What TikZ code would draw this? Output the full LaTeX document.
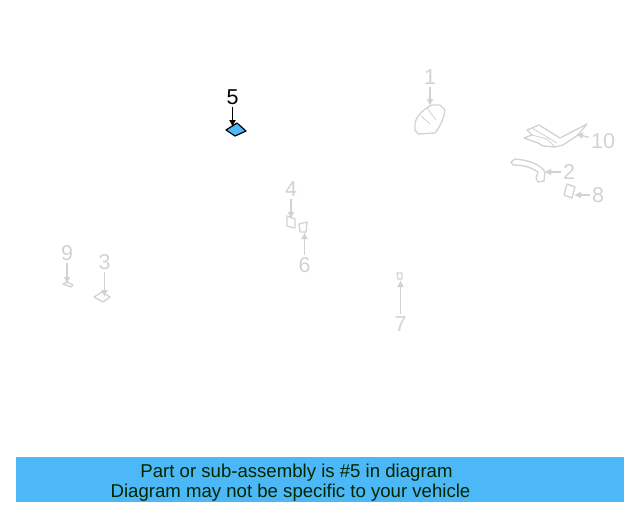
\documentclass[tikz,border=0pt]{standalone}
\usepackage{fontspec}
\setmainfont{Liberation Sans}
\usetikzlibrary{arrows.meta}
\definecolor{partgrey}{HTML}{D2D2D2}
\definecolor{partblue}{HTML}{4DB8F8}
\tikzset{
	greypart/.style={draw=partgrey, line width=1.3pt, line join=round},
	greyline/.style={draw=partgrey, line width=0.8pt},
	greyarrow/.style={draw=partgrey, line width=1.3pt, -{Latex[length=7pt,width=7pt]}, shorten <=2pt},
	greylabel/.style={text=partgrey, font=\fontsize{21.5}{21.5}\selectfont, inner sep=0pt},
	bannertext/.style={text=black!85!green, font=\fontsize{18.6}{18.6}\selectfont, inner sep=0pt, anchor=base}
}
\begin{document}
\begin{tikzpicture}[x=1pt,y=-1pt]
		\useasboundingbox (0,0) rectangle (640,512) ;

		\draw[greypart] (415,123) .. controls (417,115) and (425,108) .. (432,105) -- (440,105) -- (445,110) .. controls (444,118) and (440,127) .. (435,133) -- (418,134) -- (415,130) -- cycle ;
		\draw[greyline] (427,108) -- (436,120) ;
		\draw[greyline] (421,116) -- (430,124) ;
		\draw[greypart] (527,130) -- (539,125) -- (560,138) -- (587,124) -- (578,135) -- (563,145) -- (555,147) -- (543,146) -- (538,143) -- (524,138) -- (532,135) -- cycle ;
		\draw[greyline] (532,128) -- (557,143) ;
		\draw[greyline] (532,135) -- (547,139) -- (555,147) ;
		\draw[greypart] (511,162) -- (515,159) .. controls (528,160) and (540,164) .. (545,172) -- (544,181) -- (538,182) -- (536,178) -- (538,172) .. controls (532,168) and (525,165) .. (513,165) -- cycle ;
		\draw[greypart] (567,184) -- (575,187) -- (572,198) -- (564,195) -- cycle ;
		\draw[greypart] (287,216) -- (295,219) -- (295,228) -- (287,226) -- cycle ;
		\draw[greypart] (299,224) -- (307,222) -- (306,232) -- (300,232) -- cycle ;
		\draw[greypart] (63,284) -- (67,282) -- (73,285) -- (71,287) -- cycle ;
		\draw[greypart] (94,297) -- (102,292) -- (110,297) -- (103,302) -- cycle ;
		\draw[greypart] (397,273) -- (402,273) -- (402,279) -- (398,279) -- cycle ;
		\draw[draw=black, fill=partblue, line width=1.2pt, line join=round] (226,130) -- (237,123) -- (246,131) -- (235,136) -- cycle ;

		\node[greylabel] (lab1) at (430,77) {1} ;
		\node[greylabel] (lab2) at (569,172) {2} ;
		\node[greylabel] (lab3) at (104.5,262) {3} ;
		\node[greylabel] (lab4) at (291,189) {4} ;
		\node[greylabel, text=black] (lab5) at (232.5,97) {5} ;
		\node[greylabel] (lab6) at (304.5,265) {6} ;
		\node[greylabel] (lab7) at (400.5,324) {7} ;
		\node[greylabel] (lab8) at (598,195) {8} ;
		\node[greylabel] (lab9) at (67,253) {9} ;
		\node[greylabel] (lab10) at (603,141) {10} ;

		\coordinate (tip1) at (430,106) ;
		\coordinate (tip2) at (544,172) ;
		\coordinate (tip3) at (104.5,297) ;
		\coordinate (tip4) at (291,219) ;
		\coordinate (tip5) at (232.5,127) ;
		\coordinate (tip6) at (304.5,232) ;
		\coordinate (tip7) at (400.5,280) ;
		\coordinate (tip8) at (574,195) ;
		\coordinate (tip9) at (67,284) ;
		\coordinate (tip10) at (576,134) ;

		\draw[greyarrow] (lab1) -- (tip1) ;
		\draw[greyarrow] (lab2) -- (tip2) ;
		\draw[greyarrow] (lab3) -- (tip3) ;
		\draw[greyarrow] (lab4) -- (tip4) ;
		\draw[greyarrow, draw=black] (lab5) -- (tip5) ;
		\draw[greyarrow] (lab6) -- (tip6) ;
		\draw[greyarrow] (lab7) -- (tip7) ;
		\draw[greyarrow] (lab8) -- (tip8) ;
		\draw[greyarrow] (lab9) -- (tip9) ;
		\draw[greyarrow] (lab10) -- (tip10) ;

		\node[fill=partblue, inner sep=0pt, minimum width=608pt, minimum height=45pt, anchor=north west] (banner) at (16,457) {} ;
		\node[bannertext] (line1) at (296.5,477) {Part or sub-assembly is \#5 in diagram} ;
		\node[bannertext] (line2) at (290.5,497) {Diagram may not be specific to your vehicle} ;
	\end{tikzpicture}
\end{document}
